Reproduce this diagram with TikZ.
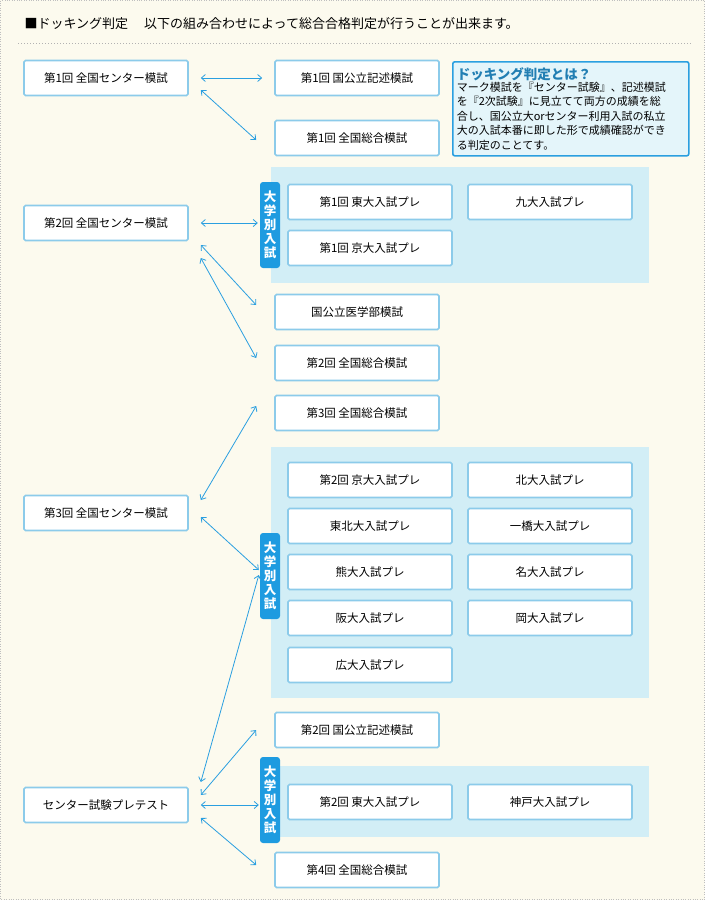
\documentclass[tikz,border=0pt]{standalone}
\usepackage{fontspec}
\setmainfont{Noto Sans CJK JP}
\usetikzlibrary{arrows.meta}
\definecolor{cream}{HTML}{FCFAEE}
\definecolor{edge}{HTML}{8CCBEA}
\definecolor{pale}{HTML}{D2EEF6}
\definecolor{arr}{HTML}{2A9FE0}
\definecolor{tagc}{HTML}{1E9BE0}
\tikzset{
    box/.style={draw=edge, line width=1.6pt, fill=white, rounded corners=1.5pt,
        minimum width=164pt, minimum height=35pt, font=\fontsize{11.5}{13}\selectfont, inner sep=0pt},
    link/.style={draw=arr, line width=0.8pt, {Straight Barb[length=4pt,width=7pt]}-{Straight Barb[length=4pt,width=7pt]}},
    tag/.style={fill=tagc, rounded corners=3pt, text=white, font=\bfseries\fontsize{12.5}{14}\selectfont,
        minimum width=20pt, inner sep=1pt, align=center},
}
\begin{document}
\begin{tikzpicture}[x=1pt, y=-1pt]
    \useasboundingbox (0,0) rectangle (705,900);
    \fill[cream] (0,0) rectangle (705,900);
    \draw[gray!50, dotted] (0.5,0.5) rectangle (704.5,899.5);
    \node[anchor=west, font=\fontsize{13}{15}\selectfont] (head) at (21,24) {■ドッキング判定\quad\ 以下の組み合わせによって総合合格判定が行うことが出来ます。};
    \draw[gray!60, dotted, line width=1pt] (18,43) -- (692,43);
    % panels
    \fill[pale] (271,167) rectangle (649,283);
    \fill[pale] (271,447) rectangle (649,698);
    \fill[pale] (271,766) rectangle (649,837);
    % left column
    \node[box] (c1) at (106,78) {第1回\ 全国センター模試};
    \node[box] (c2) at (106,223) {第2回\ 全国センター模試};
    \node[box] (c3) at (106,513) {第3回\ 全国センター模試};
    \node[box] (c4) at (106,805) {センター試験プレテスト};
    % middle column
    \node[box] (k1) at (357,78) {第1回\ 国公立記述模試};
    \node[box] (s1) at (357,138) {第1回\ 全国総合模試};
    \node[box] (ig) at (357,312) {国公立医学部模試};
    \node[box] (s2) at (357,363) {第2回\ 全国総合模試};
    \node[box] (s3) at (357,413) {第3回\ 全国総合模試};
    \node[box] (k2) at (357,730) {第2回\ 国公立記述模試};
    \node[box] (s4) at (357,870) {第4回\ 全国総合模試};
    % university boxes
    \node[box] (u1) at (370,202) {第1回\ 東大入試プレ};
    \node[box] (u2) at (550,202) {九大入試プレ};
    \node[box] (u3) at (370,248) {第1回\ 京大入試プレ};
    \node[box] (v1) at (370,480) {第2回\ 京大入試プレ};
    \node[box] (v2) at (550,480) {北大入試プレ};
    \node[box] (v3) at (370,526) {東北大入試プレ};
    \node[box] (v4) at (550,526) {一橋大入試プレ};
    \node[box] (v5) at (370,572) {熊大入試プレ};
    \node[box] (v6) at (550,572) {名大入試プレ};
    \node[box] (v7) at (370,618) {阪大入試プレ};
    \node[box] (v8) at (550,618) {岡大入試プレ};
    \node[box] (v9) at (370,665) {広大入試プレ};
    \node[box] (w1) at (370,802) {第2回\ 東大入試プレ};
    \node[box] (w2) at (550,802) {神戸大入試プレ};
    % tags
    \node[tag, minimum height=86pt] (t1) at (270,225) {大\\学\\別\\入\\試};
    \node[tag, minimum height=86pt] (t2) at (270,576) {大\\学\\別\\入\\試};
    \node[tag, minimum height=86pt] (t3) at (270,800) {大\\学\\別\\入\\試};
    % info
    \node[draw=arr, line width=1.6pt, fill=pale!60!white, rounded corners=2pt, minimum width=236pt,
        minimum height=94pt, anchor=north west, inner sep=4pt, align=left, text width=228pt,
        font=\fontsize{11}{14.5}\selectfont] (info) at (452,61)
        {{\color{arr!80!black}\bfseries\fontsize{13.5}{15}\selectfont ドッキング判定とは？}\\[-3pt]
        マーク模試を『センター試験』、記述模試\\を『2次試験』に見立てて両方の成績を総\\合し、国公立大orセンター利用入試の私立\\大の入試本番に即した形で成績確認ができ\\る判定のことてす。};
    % connectors
    \draw[link] ([xshift=12]c1.east) -- ([xshift=-12]k1.west);
    \draw[link] ([xshift=12,yshift=-12]c1.east) -- ([xshift=-18,yshift=-2]s1.west);
    \draw[link] ([xshift=12]c2.east) -- ([xshift=-2]t1.west |- c2.east);
    \draw[link] ([xshift=12,yshift=-22]c2.east) -- ([xshift=-18,yshift=7]ig.west);
    \draw[link] ([xshift=12,yshift=-35]c2.east) -- ([xshift=-18,yshift=5]s2.west);
    \draw[link] ([xshift=12,yshift=13]c3.east) -- ([xshift=-18,yshift=7]s3.west);
    \draw[link] ([xshift=12,yshift=-4]c3.east) -- ([xshift=-1,yshift=6]t2.west);
    \draw[link] ([xshift=12,yshift=23]c4.east) -- ([xshift=-1,yshift=1]t2.west);
    \draw[link] ([xshift=12,yshift=10]c4.east) -- ([xshift=-18,yshift=0]k2.west);
    \draw[link] ([xshift=12]c4.east) -- ([xshift=-1]t3.west |- c4.east);
    \draw[link] ([xshift=12,yshift=-13]c4.east) -- ([xshift=-18,yshift=5]s4.west);
\end{tikzpicture}
\end{document}
